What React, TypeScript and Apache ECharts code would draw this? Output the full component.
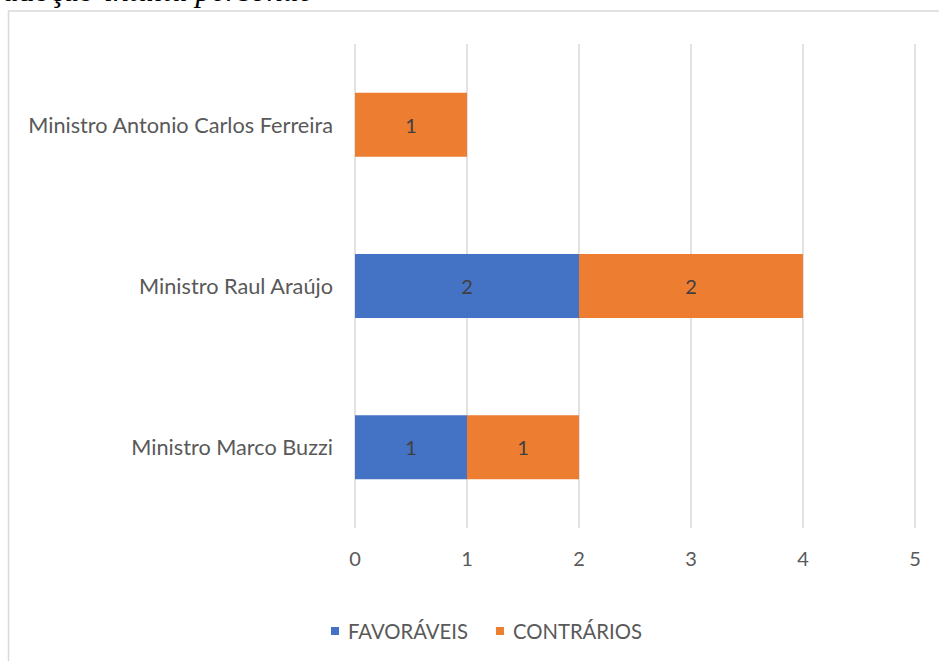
import React, { useEffect, useRef } from "react";
import * as echarts from "echarts";

const ministros = [
  "Ministro Marco Buzzi",
  "Ministro Raul Araújo",
  "Ministro Antonio Carlos Ferreira",
];
const favoraveis: (number | null)[] = [1, 2, null];
const contrarios: (number | null)[] = [1, 2, 1];
const serieNames = ["FAVORÁVEIS", "CONTRÁRIOS"];

const FONT = "Lato";

export default function App() {
  const ref = useRef<HTMLDivElement>(null);

  useEffect(() => {
    if (!ref.current) return;
    const chart = echarts.init(ref.current, undefined, { renderer: "svg" });

    const labelCfg = {
      show: true,
      position: "inside" as const,
      color: "#404040",
      fontSize: 20,
      fontFamily: FONT,
      formatter: (p: any) => (p.value ? String(p.value) : ""),
    };

    chart.setOption({
      animation: false,
      backgroundColor: "#ffffff",
      textStyle: { fontFamily: FONT },
      graphic: [
        {
          type: "rect",
          shape: { x: 8.5, y: 11, width: 1000, height: 1000 },
          style: { fill: "none", stroke: "#d9d9d9", lineWidth: 1.5 },
          silent: true,
        },
        {
          type: "text",
          x: 3,
          y: 6,
          style: {
            text: "adoção",
            font: "32px 'Liberation Serif'",
            fill: "#000000",
            verticalAlign: "bottom",
          },
        },
        {
          type: "text",
          x: 104,
          y: 6,
          style: {
            text: "intuitu personae",
            font: "italic 32px 'Liberation Serif'",
            fill: "#000000",
            verticalAlign: "bottom",
          },
        },
      ],
      grid: { left: 355, right: 24, top: 44, bottom: 133, containLabel: false },
      xAxis: {
        type: "value",
        min: 0,
        max: 5,
        interval: 1,
        axisLine: { show: false },
        axisTick: { show: false },
        splitLine: { lineStyle: { color: "#d9d9d9", width: 1.5 } },
        axisLabel: { color: "#595959", fontSize: 20, fontFamily: FONT, margin: 20 },
      },
      yAxis: {
        type: "category",
        data: ministros,
        axisLine: { show: false },
        axisTick: { show: false },
        axisLabel: { color: "#595959", fontSize: 21.7, fontFamily: FONT, margin: 22 },
      },
      legend: {
        data: serieNames,
        left: 326,
        top: 616,
        itemWidth: 8,
        itemHeight: 8,
        itemGap: 28,
        icon: "rect",
        textStyle: {
          color: "#595959",
          fontSize: 20.3,
          fontFamily: FONT,
          padding: [0, 0, 0, 4],
        },
      },
      series: [
        {
          name: serieNames[0],
          type: "bar",
          stack: "total",
          data: favoraveis,
          barWidth: 64,
          itemStyle: { color: "#4472C4" },
          label: labelCfg,
        },
        {
          name: serieNames[1],
          type: "bar",
          stack: "total",
          data: contrarios,
          barWidth: 64,
          itemStyle: { color: "#ED7D31" },
          label: labelCfg,
        },
      ],
    });

    return () => chart.dispose();
  }, []);

  return (
    <div
      ref={ref}
      style={{ position: "absolute", left: 0, top: 0, width: 939, height: 661 }}
    />
  );
}
